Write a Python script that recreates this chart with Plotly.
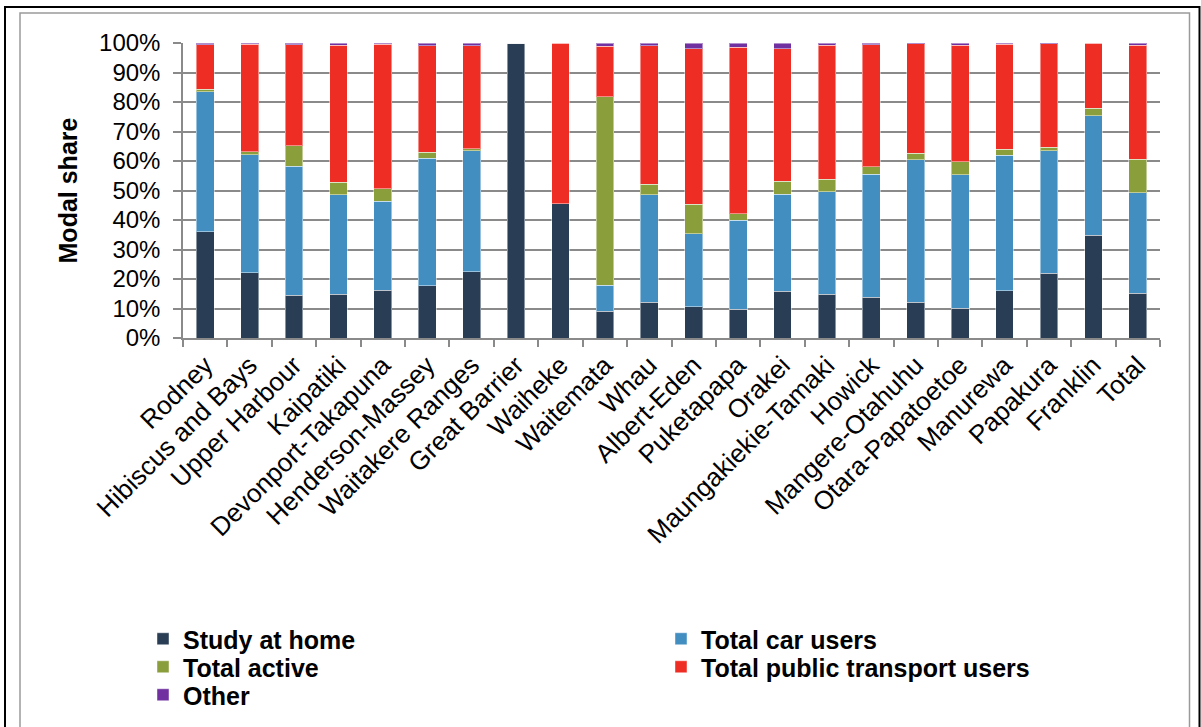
import plotly.graph_objects as go

categories = ["Rodney", "Hibiscus and Bays", "Upper Harbour", "Kaipatiki", "Devonport-Takapuna",
              "Henderson-Massey", "Waitakere Ranges", "Great Barrier", "Waiheke", "Waitemata",
              "Whau", "Albert-Eden", "Puketapapa", "Orakei", "Maungakiekie-Tamaki", "Howick",
              "Mangere-Otahuhu", "Otara-Papatoetoe", "Manurewa", "Papakura", "Franklin", "Total"]

study_at_home = [36.0, 22.1, 14.5, 14.9, 16.2, 17.7, 22.4, 100.0, 45.5, 9.1, 12.1, 10.6, 9.7, 15.9,
                 14.9, 13.8, 12.1, 10.1, 16.1, 22.0, 34.9, 15.2]
total_car_users = [47.5, 40.0, 43.8, 33.6, 30.2, 43.2, 41.0, 0.0, 0.0, 8.8, 36.4, 24.7, 30.2, 32.9,
                   34.7, 41.7, 48.4, 45.3, 45.8, 41.4, 40.4, 34.0]
total_active = [0.8, 1.1, 6.9, 4.3, 4.2, 2.1, 0.8, 0.0, 0.0, 63.8, 3.6, 10.1, 2.3, 4.4,
                4.2, 2.5, 2.1, 4.4, 2.1, 1.2, 2.5, 11.4]
total_pt_users = [15.1, 36.3, 34.2, 46.4, 48.9, 36.0, 34.8, 0.0, 54.5, 17.2, 46.9, 52.6, 56.3, 44.9,
                  45.4, 41.4, 37.2, 39.5, 35.5, 35.1, 22.2, 38.6]
other = [0.6, 0.5, 0.6, 0.8, 0.5, 1.0, 1.0, 0.0, 0.0, 1.1, 1.0, 2.0, 1.5, 1.9,
         0.8, 0.6, 0.2, 0.7, 0.5, 0.3, 0.0, 0.8]

# (name, values, colour, legend row)
series = [
    ("Study at home", study_at_home, "#293D54", "legend"),
    ("Total car users", total_car_users, "#428EC1", "legend"),
    ("Total active", total_active, "#8A9E3C", "legend2"),
    ("Total public transport users", total_pt_users, "#EE2D24", "legend2"),
    ("Other", other, "#7030A0", "legend3"),
]

FONT = "Liberation Sans, Arial, sans-serif"

fig = go.Figure()
for name, vals, color, leg in series:
    fig.add_trace(go.Bar(
        x=categories, y=vals, name=name, legend=leg,
        marker=dict(color=color, line=dict(color="rgba(255,255,255,0.45)", width=1)),
    ))

W, H = 1201, 727
L, R, T, B = 183, 41, 43, 389
pw, ph = W - L - R, H - T - B


def px_x(v):
    return (v - L) / pw


def px_y(v):
    return (H - B - v) / ph


def legend_row(top_px):
    return dict(
        orientation="h", x=px_x(143), xanchor="left", y=px_y(top_px), yanchor="top",
        entrywidth=473, entrywidthmode="pixels",
        font=dict(family=FONT, size=25, color="black", weight="bold"),
        traceorder="normal", itemclick=False, bgcolor="rgba(0,0,0,0)",
    )


fig.update_layout(
    width=W, height=H,
    barmode="stack", bargap=0.6,
    margin=dict(l=L, r=R, t=T, b=B, autoexpand=False),
    paper_bgcolor="white", plot_bgcolor="white",
    font=dict(family=FONT, color="black", size=24),
    showlegend=True,
    legend=legend_row(616),
    legend2=legend_row(644),
    legend3=legend_row(672),
    xaxis=dict(
        tickangle=-45, showline=True, linecolor="#8a8a8a", linewidth=1.5,
        ticks="outside", ticklen=7, tickcolor="#8a8a8a", tickwidth=1.5, tickson="boundaries",
        showgrid=False, tickfont=dict(size=26, family=FONT), automargin=False,
    ),
    yaxis=dict(
        range=[0, 100], dtick=10, ticksuffix="%", showline=True, linecolor="#8a8a8a", linewidth=1.5,
        ticks="outside", ticklen=8, tickcolor="#8a8a8a", tickwidth=1.5,
        showgrid=True, gridcolor="#8a8a8a", gridwidth=1.5, zeroline=False,
        tickfont=dict(size=24, family=FONT), ticklabelstandoff=8, automargin=False,
        title=dict(text="<b>Modal share</b>", font=dict(size=25, family=FONT), standoff=14),
    ),
    shapes=[
        dict(type="rect", xref="paper", yref="paper", x0=px_x(20), x1=px_x(1189.5),
             y0=px_y(740), y1=px_y(13), line=dict(color="#9a9a9a", width=1.5), layer="above"),
        dict(type="rect", xref="paper", yref="paper", x0=px_x(5), x1=px_x(1199.5),
             y0=px_y(740), y1=px_y(7), line=dict(color="black", width=2), layer="above"),
    ],
)

fig.write_html("out.html", config={"displayModeBar": False},
               post_script="document.body.style.margin='0';")
